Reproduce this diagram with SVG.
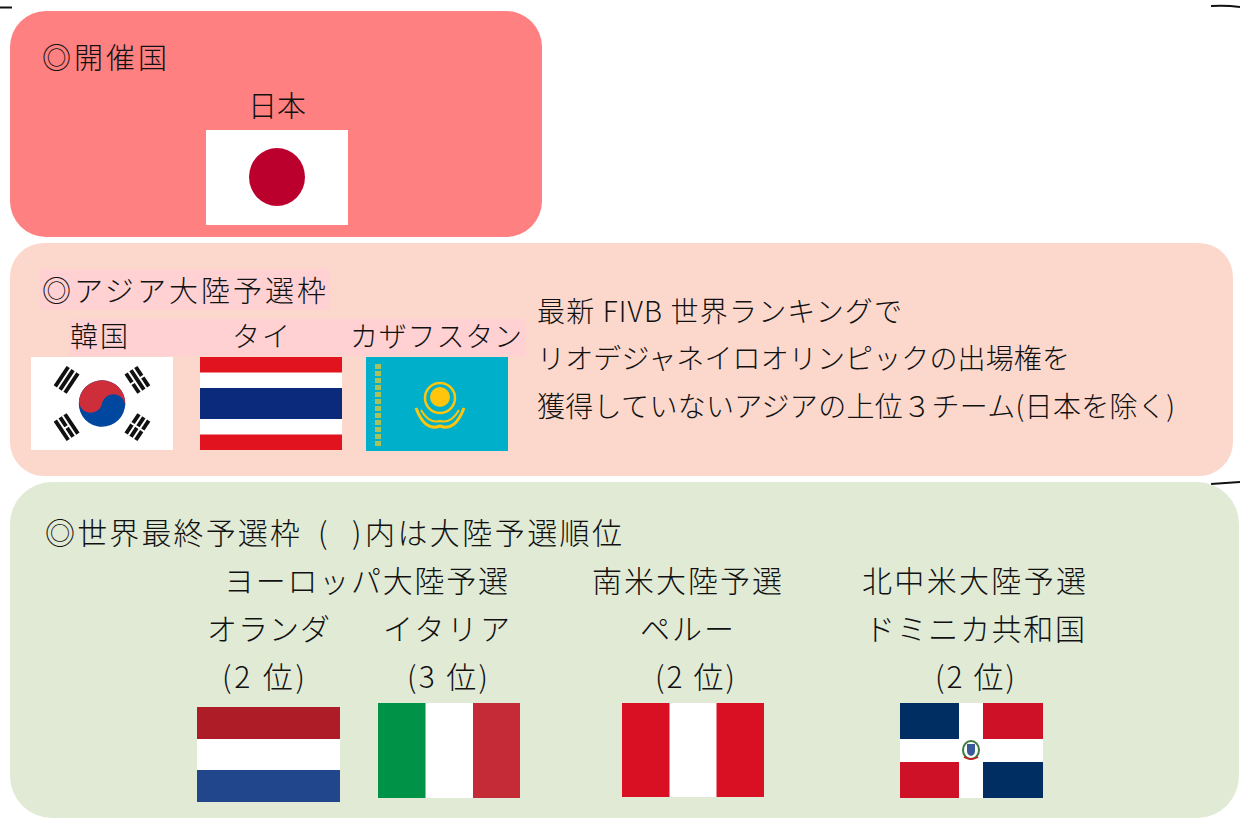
<svg xmlns="http://www.w3.org/2000/svg" xmlns:xlink="http://www.w3.org/1999/xlink" width="1240" height="820" viewBox="0 0 1240 820">
<style>
text{font-family:"Noto Sans CJK JP","Noto Sans CJK SC",sans-serif;fill:#111;font-size:28px;font-weight:300}
.big{font-size:29px}
.g{font-size:30px}
.mark{fill:none;stroke:#111;stroke-width:2}
</style>
<defs>
<rect id="bar" x="-11.6" y="-1.95" width="23.25" height="3.9" fill="#111"/>
<g id="brk" fill="#111"><rect x="-11.6" y="-1.95" width="10.6" height="3.9"/><rect x="1" y="-1.95" width="10.6" height="3.9"/></g>
</defs>
<rect width="1240" height="820" fill="#fff"/>
<g id="marks">
<path class="mark" d="M0 7.5 H12"/>
<path class="mark" d="M1211 6 Q1226 5 1240 7"/>
<path class="mark" d="M1211 484 Q1226 483 1240 482"/>
</g>
<g id="host">
<rect x="10" y="11" width="532" height="226" rx="36" fill="#FF8080"/>
<text x="42" y="69" class="big" textLength="125">◎開催国</text>
<text x="277" y="117" class="big" text-anchor="middle">日本</text>
<g id="flag-japan">
<rect x="206" y="130" width="142" height="95" fill="#fff"/>
<ellipse cx="277" cy="177" rx="28" ry="29" fill="#BC002D"/>
</g>
</g>
<g id="asia">
<rect x="10" y="243" width="1223" height="233" rx="34" fill="#FCD8CC"/>
<rect x="40" y="269" width="290" height="41" fill="#FFD1D3"/>
<rect x="69" y="319" width="456" height="37" fill="#FFD1D3"/>
<text x="42" y="302" class="big" textLength="284">◎アジア大陸予選枠</text>
<text x="70" y="347" textLength="58">韓国</text>
<text x="232" y="347" textLength="58">タイ</text>
<text x="350" y="347" textLength="172">カザフスタン</text>
<text x="537" y="322" textLength="365">最新 FIVB 世界ランキングで</text>
<text x="537" y="369" textLength="533">リオデジャネイロオリンピックの出場権を</text>
<text x="537" y="417" textLength="638">獲得していないアジアの上位３チーム(日本を除く)</text>
<g id="flag-korea">
<rect x="31" y="357" width="142" height="93" fill="#fff"/>
<g transform="translate(102,403.5)">
<g transform="rotate(12)">
<circle r="23.25" fill="#0047A0"/>
<path d="M-23.25 0 A23.25 23.25 0 0 1 23.25 0 A11.625 11.625 0 0 0 0 0 A11.625 11.625 0 0 1 -23.25 0 Z" fill="#CD2E3A"/>
</g>
<g transform="translate(-35.4,-23.6) rotate(-56.31)"><use xlink:href="#bar" y="-5.84"/><use xlink:href="#bar"/><use xlink:href="#bar" y="5.84"/></g>
<g transform="translate(35.4,-23.6) rotate(56.31)"><use xlink:href="#brk" y="-5.84"/><use xlink:href="#bar"/><use xlink:href="#brk" y="5.84"/></g>
<g transform="translate(-35.4,23.6) rotate(56.31)"><use xlink:href="#bar" y="-5.84"/><use xlink:href="#brk"/><use xlink:href="#bar" y="5.84"/></g>
<g transform="translate(35.4,23.6) rotate(-56.31)"><use xlink:href="#brk" y="-5.84"/><use xlink:href="#brk"/><use xlink:href="#brk" y="5.84"/></g>
</g>
</g>
<g id="flag-thailand">
<rect x="200" y="357" width="142" height="93" fill="#E0131E"/>
<rect x="200" y="372.5" width="142" height="62" fill="#fff"/>
<rect x="200" y="388" width="142" height="31" fill="#0B2A7C"/>
</g>
<g id="flag-kazakhstan">
<rect x="366" y="357" width="142" height="94" fill="#00AFCA"/>
<line x1="378" y1="364" x2="378" y2="446" stroke="#A9C15A" stroke-width="6" stroke-dasharray="5 2"/>
<circle cx="440" cy="398" r="15" fill="none" stroke="#FEC50C" stroke-width="2.5"/>
<circle cx="440" cy="397" r="10" fill="#FEC50C"/>
<path d="M416 408 Q425 432 440 426 Q455 432 464 408" fill="none" stroke="#FEC50C" stroke-width="3"/>
<path d="M421 410 Q429 424 440 421 Q451 424 459 410" fill="none" stroke="#FEC50C" stroke-width="2"/>
</g>
</g>
<g id="world">
<rect x="10" y="482" width="1229" height="336" rx="42" fill="#E0EAD5"/>
<text class="g" y="544"><tspan x="45" textLength="255">◎世界最終予選枠</tspan><tspan x="318">(</tspan><tspan x="352">)</tspan><tspan x="365" textLength="257">内は大陸予選順位</tspan></text>
<text class="g" x="224" y="592" textLength="284">ヨーロッパ大陸予選</text>
<text class="g" x="592" y="592" textLength="190">南米大陸予選</text>
<text class="g" x="862" y="592" textLength="224">北中米大陸予選</text>
<text class="g" x="207" y="640" textLength="123">オランダ</text>
<text class="g" x="383" y="640" textLength="127">イタリア</text>
<text class="g" x="640" y="640" textLength="94">ペルー</text>
<text class="g" x="865" y="640" textLength="220">ドミニカ共和国</text>
<text class="g" x="222" y="688" textLength="83">(2 位)</text>
<text class="g" x="407" y="688" textLength="81">(3 位)</text>
<text class="g" x="655" y="688" textLength="80">(2 位)</text>
<text class="g" x="935" y="688" textLength="80">(2 位)</text>
<g id="flag-netherlands">
<rect x="197" y="707" width="143" height="95" fill="#21468B"/>
<rect x="197" y="707" width="143" height="63" fill="#fff"/>
<rect x="197" y="707" width="143" height="32" fill="#AE1C28"/>
</g>
<g id="flag-italy">
<rect x="378" y="703" width="142" height="95" fill="#C52B37"/>
<rect x="378" y="703" width="95" height="95" fill="#fff"/>
<rect x="378" y="703" width="47.5" height="95" fill="#009246"/>
</g>
<g id="flag-peru">
<rect x="622" y="703" width="142" height="94" fill="#D91023"/>
<rect x="669.5" y="703" width="47" height="94" fill="#fff"/>
</g>
<g id="flag-dominican">
<rect x="900" y="703" width="143" height="95" fill="#fff"/>
<rect x="900" y="703" width="59" height="36" fill="#002D62"/>
<rect x="983" y="703" width="60" height="36" fill="#CE1126"/>
<rect x="900" y="762" width="59" height="36" fill="#CE1126"/>
<rect x="983" y="762" width="60" height="36" fill="#002D62"/>
<ellipse cx="971" cy="750" rx="8" ry="9" fill="none" stroke="#3A7A3A" stroke-width="2"/>
<path d="M967 744 h8 v7 q0 4 -4 5 q-4 -1 -4 -5 z" fill="#3A5A9A"/>
<path d="M964 757 q7 4 14 0" fill="none" stroke="#C02020" stroke-width="2"/>
</g>
</g>
</svg>
